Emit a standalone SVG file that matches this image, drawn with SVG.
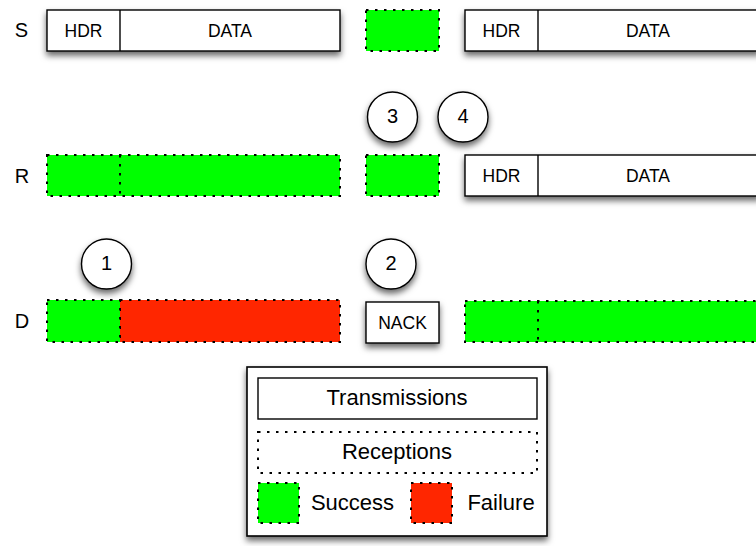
<svg xmlns="http://www.w3.org/2000/svg" width="756" height="546" viewBox="0 0 756 546">
<defs>
<filter id="sh" x="-20%" y="-30%" width="140%" height="180%">
<feDropShadow dx="0" dy="4" stdDeviation="3" flood-color="#000" flood-opacity="0.6"/>
</filter>
</defs>
<style>
text{font-family:"Liberation Sans",Arial,sans-serif;fill:#000;text-anchor:middle;dominant-baseline:central}
.lbl{font-size:20px}
.t{font-size:17.5px}
.n{font-size:20px}
.lg{font-size:22px}
.tx{fill:#fff;stroke:#000;stroke-width:1.4}
.ok{fill:#00ff00;stroke:#000;stroke-width:2;stroke-dasharray:2.5,6.5}
.bad{fill:#ff2600;stroke:#000;stroke-width:2;stroke-dasharray:2.5,6.5}
.rx{fill:#fff;stroke:#000;stroke-width:2;stroke-dasharray:2.5,6.5}
.div{stroke:#000;stroke-width:2;stroke-dasharray:2.5,6.5}
.circ{fill:#fff;stroke:#000;stroke-width:1.4}
</style>
<rect width="756" height="546" fill="#fff"/>
<g id="labels">
<text class="lbl" x="21.5" y="30">S</text>
<text class="lbl" x="22" y="176">R</text>
<text class="lbl" x="22" y="321">D</text>
</g>
<g id="s-frame1">
<rect class="tx" x="47" y="10" width="293" height="41" filter="url(#sh)"/>
<line x1="120" y1="10" x2="120" y2="51" stroke="#000" stroke-width="1.4"/>
<text class="t" x="83.5" y="31">HDR</text>
<text class="t" x="230" y="31">DATA</text>
</g>
<g id="s-ok">
<rect class="ok" x="366" y="10" width="73" height="41"/>
</g>
<g id="s-frame2">
<rect class="tx" x="465" y="10" width="295" height="41" filter="url(#sh)"/>
<line x1="538" y1="10" x2="538" y2="51" stroke="#000" stroke-width="1.4"/>
<text class="t" x="501.5" y="31">HDR</text>
<text class="t" x="648" y="31">DATA</text>
</g>
<g id="circle3">
<circle class="circ" cx="392.5" cy="117" r="25" filter="url(#sh)"/>
<text class="n" x="392.5" y="116">3</text>
</g>
<g id="circle4">
<circle class="circ" cx="463" cy="117" r="25" filter="url(#sh)"/>
<text class="n" x="463" y="116">4</text>
</g>
<g id="r-frame1">
<rect class="ok" x="47" y="155" width="293" height="41"/>
<line class="div" x1="120" y1="155" x2="120" y2="196"/>
</g>
<g id="r-ok">
<rect class="ok" x="366" y="155" width="73" height="41"/>
</g>
<g id="r-frame2">
<rect class="tx" x="465" y="155" width="295" height="41" filter="url(#sh)"/>
<line x1="538" y1="155" x2="538" y2="196" stroke="#000" stroke-width="1.4"/>
<text class="t" x="501.5" y="176">HDR</text>
<text class="t" x="648" y="176">DATA</text>
</g>
<g id="circle1">
<circle class="circ" cx="106.5" cy="264" r="25" filter="url(#sh)"/>
<text class="n" x="106.5" y="263">1</text>
</g>
<g id="circle2">
<circle class="circ" cx="391" cy="264" r="25" filter="url(#sh)"/>
<text class="n" x="391" y="263">2</text>
</g>
<g id="d-frame1">
<rect class="bad" x="120" y="300" width="220" height="42"/>
<rect class="ok" x="47" y="300" width="73" height="42"/>
</g>
<g id="d-nack">
<rect class="tx" x="366" y="302" width="73" height="41" filter="url(#sh)"/>
<text class="t" x="402.5" y="322.5">NACK</text>
</g>
<g id="d-frame2">
<rect class="ok" x="465" y="301" width="295" height="41"/>
<line class="div" x1="538" y1="301" x2="538" y2="342"/>
</g>
<g id="legend">
<rect x="247" y="367" width="300" height="169" fill="#fff" stroke="#000" stroke-width="1.6" filter="url(#sh)"/>
<rect class="tx" x="258" y="378" width="279" height="41"/>
<text class="lg" x="397" y="397.5">Transmissions</text>
<rect class="rx" x="258" y="432" width="279" height="41"/>
<text class="lg" x="397" y="451.5">Receptions</text>
<rect class="ok" x="258" y="483" width="41" height="40"/>
<text class="lg" x="352.5" y="502.5">Success</text>
<rect class="bad" x="411" y="483" width="41" height="40"/>
<text class="lg" x="501" y="502.5">Failure</text>
</g>
</svg>
